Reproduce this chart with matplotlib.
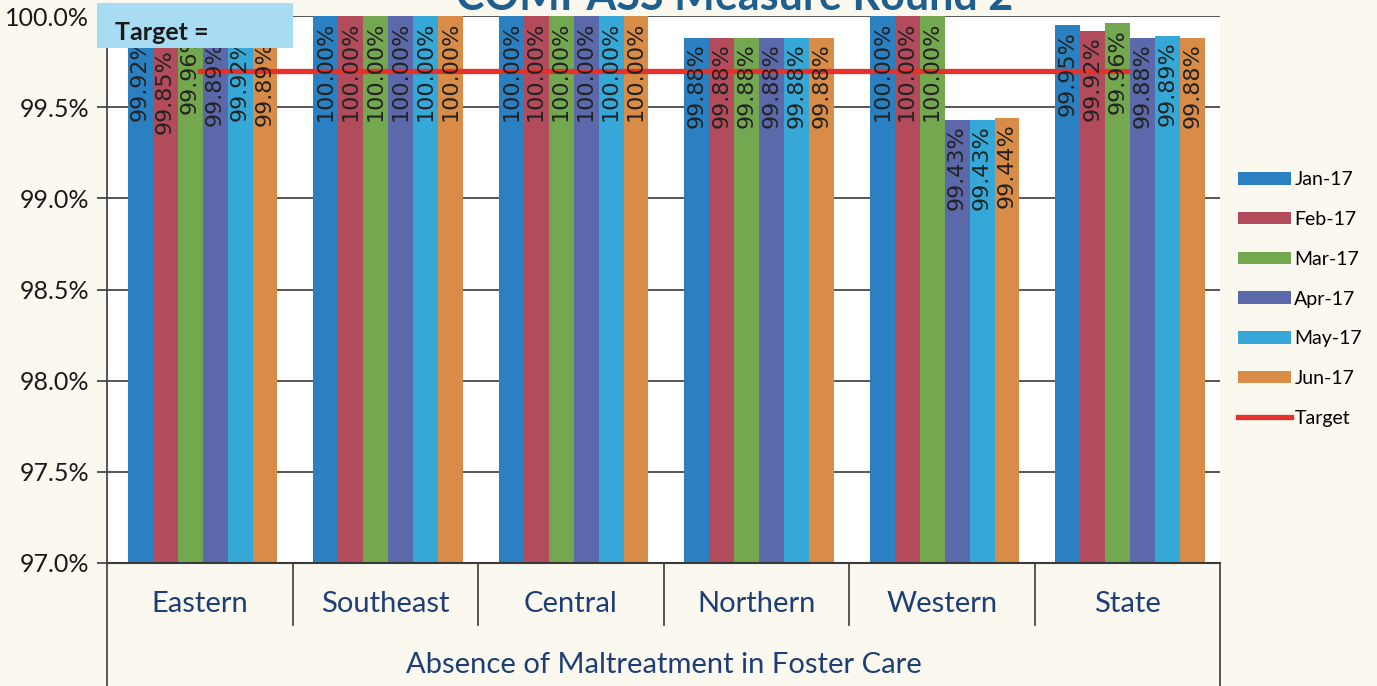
import numpy as np
import matplotlib.pyplot as plt
from matplotlib.patches import Rectangle, Patch
from matplotlib.lines import Line2D
import matplotlib.transforms as mtransforms

regions = ['Eastern', 'Southeast', 'Central', 'Northern', 'Western', 'State']
months = ['Jan-17', 'Feb-17', 'Mar-17', 'Apr-17', 'May-17', 'Jun-17']
jan = [99.92, 100.00, 100.00, 99.88, 100.00, 99.95]
feb = [99.85, 100.00, 100.00, 99.88, 100.00, 99.92]
mar = [99.96, 100.00, 100.00, 99.88, 100.00, 99.96]
apr = [99.89, 100.00, 100.00, 99.88, 99.43, 99.88]
may = [99.92, 100.00, 100.00, 99.88, 99.43, 99.89]
jun = [99.89, 100.00, 100.00, 99.88, 99.44, 99.88]
target = [99.7, 99.7, 99.7, 99.7, 99.7, 99.7]
yticks = [97.0, 97.5, 98.0, 98.5, 99.0, 99.5, 100.0]

series = [jan, feb, mar, apr, may, jun]
colors = ['#2B80C2', '#B24B5C', '#73A850', '#5B68AA', '#35A8D8', '#D98C48']
navy = '#1E3F75'

fig = plt.figure(figsize=(13.77, 6.86), dpi=100, facecolor='#FBF8EF')
ax = fig.add_axes([107 / 1377, 1 - 563 / 686, (1220 - 107) / 1377, 547 / 686])
ax.set_facecolor('white')

x = np.arange(len(regions))
w = 0.1347
for i, (vals, c) in enumerate(zip(series, colors)):
    xs = x + (i - 2.5) * w + 0.015
    ax.bar(xs, vals, width=w, color=c, zorder=2, label=months[i])
    for xi, v in zip(xs, vals):
        ax.annotate('%.2f%%' % v, (xi, v), xytext=(0, -4), textcoords='offset points',
                    rotation=90, ha='center', va='top', fontsize=16,
                    color='#222222', zorder=4, annotation_clip=False)

ax.plot(x, target, color='#E8312B', lw=3.8, zorder=3, label='Target')

ax.set_ylim(97.0, 100.0)
ax.set_xlim(-0.5, 5.5)
ax.set_yticks(yticks)
ax.set_yticklabels(['%.1f%%' % t for t in yticks], fontsize=18, family='Lato', color='#1a1a1a')
ax.yaxis.grid(True, color='#3a3a3a', lw=1.2, zorder=0)
ax.set_axisbelow(True)
ax.tick_params(axis='y', length=7, width=1.2, color='#3a3a3a', pad=6)
ax.set_xticks([])
for s in ['top', 'right']:
    ax.spines[s].set_visible(False)
ax.spines['left'].set_color('#3a3a3a')
ax.spines['bottom'].set_color('#3a3a3a')
ax.spines['left'].set_linewidth(1.2)
ax.spines['bottom'].set_linewidth(1.5)

# multi-level category axis below the plot
trans = mtransforms.blended_transform_factory(ax.transData, ax.transAxes)
for b in np.arange(0.5, 5.5, 1.0):
    ax.plot([b, b], [0, -0.113], transform=trans, color='#3a3a3a', lw=1.2, clip_on=False)
for b in [-0.5, 5.5]:
    ax.plot([b, b], [0, -0.23], transform=trans, color='#3a3a3a', lw=1.2, clip_on=False)
for xi, r in zip(x, regions):
    ax.text(xi, -0.075, r, transform=trans, ha='center', va='center',
            fontsize=21, family='Lato', color=navy)
ax.text(2.5, -0.187, 'Absence of Maltreatment in Foster Care', transform=trans,
        ha='center', va='center', fontsize=21, family='Lato', color=navy)

# title (cut off at the top edge)
fig.text(735 / 1377, 1 - 10 / 686, 'COMPASS Measure Round 2', ha='center', va='baseline',
         fontsize=31, fontweight='bold', family='Lato', color='#1F5F8E')

# target box
fig.patches.append(Rectangle((97 / 1377, 1 - 48 / 686), 196 / 1377, 45 / 686,
                             transform=fig.transFigure, facecolor='#A8DCF2',
                             edgecolor='none', zorder=5))
fig.text(115 / 1377, 1 - 32 / 686, 'Target =', ha='left', va='center', fontsize=18,
         fontweight='bold', family='Lato', color='#1a1a1a', zorder=6)

handles = [Patch(facecolor=c, label=m) for c, m in zip(colors, months)]
handles.append(Line2D([0], [0], color='#E8312B', lw=3.8, label='Target'))
fig.legend(handles=handles, loc='center left', bbox_to_anchor=(1238 / 1377, 1 - 299 / 686),
           frameon=False, prop={'family': 'Lato', 'size': 14},
           handlelength=2.7, handleheight=0.6, handletextpad=0.2, labelspacing=1.17,
           borderpad=0, borderaxespad=0)

fig.savefig('out.png', dpi=100, facecolor=fig.get_facecolor())
